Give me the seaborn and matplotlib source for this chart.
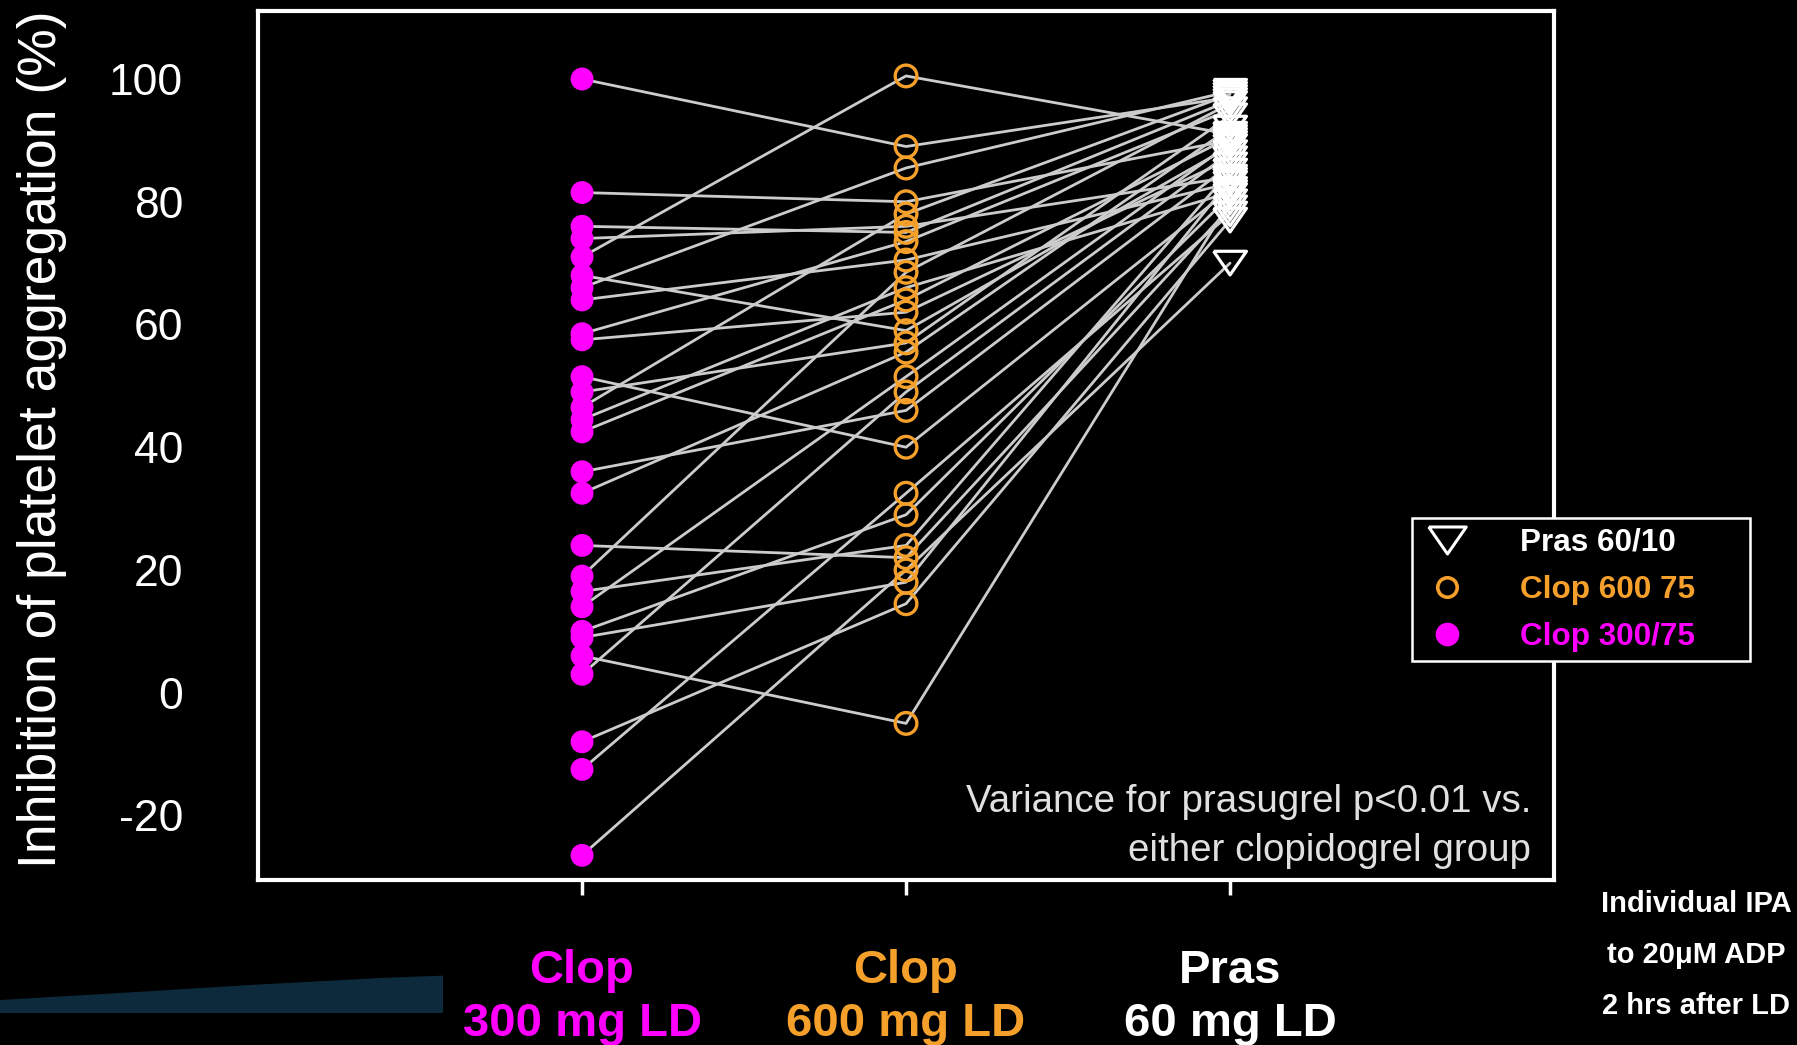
import numpy as np
import pandas as pd
import matplotlib
matplotlib.use("Agg")
import matplotlib.pyplot as plt
import seaborn as sns
from matplotlib.lines import Line2D
from matplotlib.patches import Polygon
from matplotlib.transforms import blended_transform_factory

# ---------------- data ----------------
groups = ["Clop 300", "Clop 600", "Pras"]
clop300 = [100, 81.5, 76, 74, 71, 68, 66, 64, 58.5, 57.5, 51.5, 49, 46.5, 44.5,
           42.5, 36, 32.5, 24, 19, 16.5, 14, 10, 9, 6, 3, -8, -12.5, -26.5]
clop600 = [89, 80, 75, 76, 100.5, 59, 85.5, 70.5, 73.5, 62, 40, 57, 78, 66,
           64, 46, 55.5, 22, 68.5, 24, 51.5, 29, 18, -5, 49, 14.5, 32.5, 20]
pras60 = [97, 90, 96.5, 84, 91, 89, 98, 83, 95, 87, 82, 94, 97.5, 81.5,
          90.5, 86, 92, 79, 96, 85, 89.5, 81, 83.5, 80, 88, 77, 78, 70]
legend_labels = ["Pras 60/10", "Clop 600 75", "Clop 300/75"]
group_labels = ["Clop\n300 mg LD", "Clop\n600 mg LD", "Pras\n60 mg LD"]
side_note = "Individual IPA\nto 20\u03bcM ADP\n2 hrs after LD"
variance_note = "Variance for prasugrel p<0.01 vs.\neither clopidogrel group"
y_ticks = [-20, 0, 20, 40, 60, 80, 100]
y_label = "Inhibition of platelet aggregation (%)"

MAGENTA = "#FF00FF"
ORANGE = "#F5A02A"
WHITE = "#FFFFFF"
LINE = "#CCCCCC"

sns.set_theme(style="dark")
plt.rcParams["font.family"] = ["Liberation Sans", "DejaVu Sans"]

n = len(clop300)
df = pd.DataFrame({
    "subject": np.tile(np.arange(n), 3),
    "group": np.repeat(groups, n),
    "ipa": clop300 + clop600 + pras60,
})
df["pos"] = df["group"].map({g: i for i, g in enumerate(groups)})

fig = plt.figure(figsize=(17.97, 10.45), dpi=100, facecolor="black")
ax = fig.add_axes([0.1436, 0.158, 0.8648 - 0.1436, 0.989 - 0.158])
ax.set_facecolor("black")

# background swoosh (bottom-left decoration)
pts_px = [(0, 1000), (120, 993), (250, 985), (380, 978), (460, 975),
          (460, 1013), (0, 1013)]
fig.add_artist(Polygon([(x / 1797, 1 - y / 1045) for x, y in pts_px], closed=True,
                       transform=fig.transFigure, facecolor="#0d2a3c",
                       edgecolor="none", zorder=0))

sns.lineplot(data=df, x="pos", y="ipa", units="subject", estimator=None, sort=False,
             color=LINE, linewidth=2.0, legend=False, ax=ax, zorder=1)

tri = [(-1, 0.72), (1, 0.72), (0, -0.72), (-1, 0.72)]
sns.scatterplot(data=df[df["group"] == groups[0]], x="pos", y="ipa", color=MAGENTA,
                s=272, edgecolor="none", linewidth=0, ax=ax, zorder=3, legend=False)
sns.scatterplot(data=df[df["group"] == groups[1]], x="pos", y="ipa", facecolors="none",
                edgecolor=ORANGE, linewidth=2.4, s=243, ax=ax, zorder=3, legend=False)
sns.scatterplot(data=df[df["group"] == groups[2]], x="pos", y="ipa", marker=tri,
                facecolors="none", edgecolor=WHITE, linewidth=2.3, s=560, ax=ax,
                zorder=3, legend=False)

ax.set_xlim(-1, 3)
ax.set_ylim(-30.5, 111)
ax.grid(False)
ax.set_yticks(y_ticks)
ax.set_yticklabels([str(t) for t in y_ticks])
ax.set_xticks([0, 1, 2])
ax.set_xticklabels(["", "", ""])
ax.tick_params(axis="y", length=0, pad=54, labelsize=32, labelcolor=WHITE)
ax.tick_params(axis="x", direction="out", length=11, width=2.5, color=WHITE,
               bottom=True)
ax.set_xlabel("")
ax.set_ylabel(y_label, color=WHITE, fontsize=38.5)
ax.yaxis.set_label_coords(-0.1478, 0.508)
for sp in ax.spines.values():
    sp.set_visible(True)
    sp.set_color(WHITE)
    sp.set_linewidth(3)

ax.text(2.93, -21.85, variance_note, ha="right", va="center", multialignment="right",
        color="#E0E0E0", fontsize=27.7, linespacing=1.47, zorder=4)

# legend
handles = [
    Line2D([], [], ls="none", marker=tri, markersize=27, mfc="none", mec=WHITE, mew=2.2),
    Line2D([], [], ls="none", marker="o", markersize=14, mfc="none", mec=ORANGE, mew=2.6),
    Line2D([], [], ls="none", marker="o", markersize=17, mfc=MAGENTA, mec="none"),
]
leg = ax.legend(handles, legend_labels, loc="upper left",
                bbox_to_anchor=(0.786, 0.367, 0.188, 0.137), mode="expand",
                bbox_transform=fig.transFigure, frameon=True, fancybox=False,
                facecolor="black", edgecolor=WHITE, framealpha=1,
                prop={"weight": "bold", "size": 22.7}, labelspacing=0.54,
                handletextpad=1.5, borderpad=0.3, borderaxespad=0, handlelength=1.6)
leg.get_frame().set_linewidth(1.8)
for txt, col in zip(leg.get_texts(), [WHITE, ORANGE, MAGENTA]):
    txt.set_color(col)
leg.set_zorder(10)

# bottom group labels
trans = blended_transform_factory(ax.transData, fig.transFigure)
for i, (lab, col) in enumerate(zip(group_labels, [MAGENTA, ORANGE, WHITE])):
    fig.text(i, 0.0452, lab, transform=trans, ha="center", va="center",
             multialignment="center", color=col, fontsize=34, fontweight="bold",
             linespacing=1.26,
             bbox=dict(facecolor="black", edgecolor="none", pad=14), zorder=3)

fig.text(0.9438, 0.0862, side_note, ha="center", va="center", multialignment="center",
         color=WHITE, fontsize=21, fontweight="bold", linespacing=2.06,
         bbox=dict(facecolor="black", edgecolor="none", pad=6), zorder=3)

fig.savefig("out.png", dpi=100, facecolor="black")
